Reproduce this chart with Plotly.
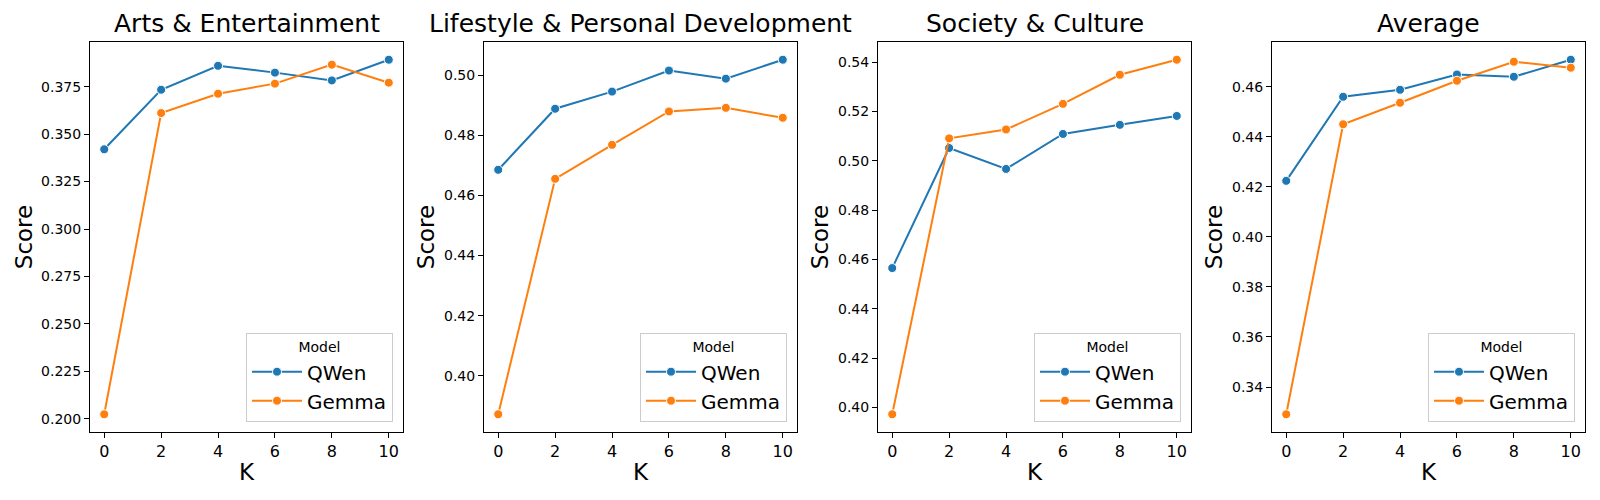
import plotly.graph_objects as go

K = [0, 2, 4, 6, 8, 10]
panels = ["Arts & Entertainment", "Lifestyle & Personal Development", "Society & Culture", "Average"]

qwen_arts = [0.3420, 0.3734, 0.3860, 0.3824, 0.3783, 0.3892]
gemma_arts = [0.2024, 0.3611, 0.3713, 0.3766, 0.3866, 0.3771]

qwen_life = [0.4685, 0.4888, 0.4945, 0.5015, 0.4988, 0.5051]
gemma_life = [0.3872, 0.4655, 0.4768, 0.4879, 0.4891, 0.4858]

qwen_soc = [0.4565, 0.5052, 0.4967, 0.5109, 0.5146, 0.5182]
gemma_soc = [0.3972, 0.5091, 0.5127, 0.5231, 0.5349, 0.5410]

qwen_avg = [0.4224, 0.4560, 0.4588, 0.4649, 0.4640, 0.4708]
gemma_avg = [0.3291, 0.4450, 0.4536, 0.4624, 0.4700, 0.4676]

series = [(qwen_arts, gemma_arts), (qwen_life, gemma_life), (qwen_soc, gemma_soc), (qwen_avg, gemma_avg)]
y_dticks = [0.025, 0.02, 0.02, 0.02]
y_formats = [".3f", ".2f", ".2f", ".2f"]

W, H = 1600, 500
x_left = [90, 484, 878, 1272]
pw = 313
y_top, y_bot = 42, 432
legend_right = [393, 787, 1181, 1575]

blue = "#1f77b4"
orange = "#ff7f0e"
font = "DejaVu Sans"

fig = go.Figure()
layout = dict(
    width=W, height=H,
    margin=dict(l=0, r=0, t=0, b=0),
    paper_bgcolor="white", plot_bgcolor="white",
    font=dict(family=font, color="black"),
    annotations=[],
)

for i, (name, (q, g)) in enumerate(zip(panels, series)):
    sfx = "" if i == 0 else str(i + 1)
    leg = "legend" if i == 0 else f"legend{i + 1}"
    for vals, label, col in [(q, "QWen", blue), (g, "Gemma", orange)]:
        fig.add_trace(go.Scatter(
            x=K, y=vals, name=label, mode="lines+markers",
            line=dict(color=col, width=2),
            marker=dict(color=col, size=9, line=dict(color="white", width=1)),
            xaxis="x" + sfx, yaxis="y" + sfx, legend=leg,
        ))
    allv = list(q) + list(g)
    lo, hi = min(allv), max(allv)
    pad = 0.05 * (hi - lo)
    x0 = x_left[i] / W
    x1 = (x_left[i] + pw) / W
    yd0 = 1 - y_bot / H
    yd1 = 1 - y_top / H
    layout["xaxis" + sfx] = dict(
        domain=[x0, x1], anchor="y" + sfx, range=[-0.5, 10.5],
        tickvals=K, ticks="outside", ticklen=5, tickcolor="black",
        showline=True, linecolor="black", linewidth=1, mirror=True,
        showgrid=False, zeroline=False,
        tickfont=dict(size=16, family=font),
        title=dict(text="K", font=dict(size=23, family=font), standoff=3),
    )
    layout["yaxis" + sfx] = dict(
        domain=[yd0, yd1], anchor="x" + sfx, range=[lo - pad, hi + pad],
        dtick=y_dticks[i], tickformat=y_formats[i],
        ticks="outside", ticklen=5, tickcolor="black",
        showline=True, linecolor="black", linewidth=1, mirror=True,
        showgrid=False, zeroline=False,
        tickfont=dict(size=14, family=font),
        title=dict(text="Score", font=dict(size=23, family=font), standoff=2),
    )
    layout[leg] = dict(
        x=legend_right[i] / W, xanchor="right",
        y=1 - 422 / H, yanchor="bottom",
        xref="paper", yref="paper",
        bgcolor="rgba(255,255,255,0.8)", bordercolor="#cccccc", borderwidth=1,
        font=dict(size=20, family=font),
        title=dict(text="Model", font=dict(size=14, family=font), side="top center"),
        itemwidth=50,
    )
    layout["annotations"].append(dict(
        text=name, x=(x0 + x1) / 2, y=yd1, xref="paper", yref="paper",
        xanchor="center", yanchor="bottom", yshift=2, showarrow=False,
        font=dict(size=25, family=font),
    ))

fig.update_layout(**layout)
fig.write_html(
    "out.html",
    config={"displayModeBar": False},
    post_script="document.body.style.margin='0';document.body.style.overflow='hidden';",
)
